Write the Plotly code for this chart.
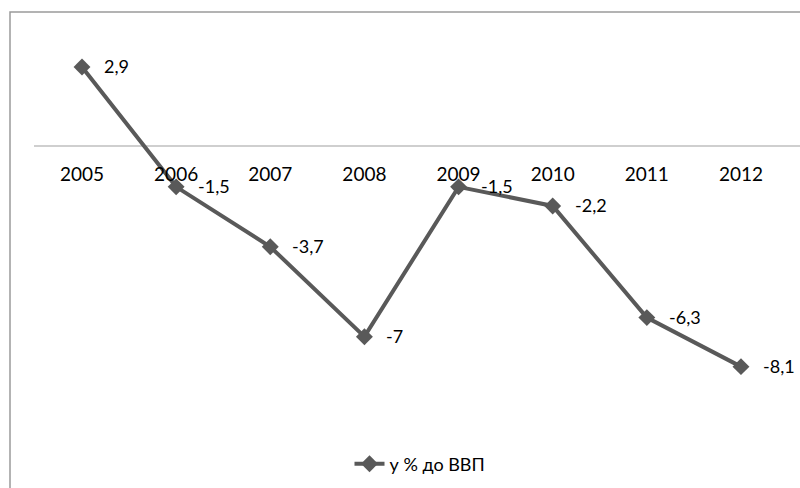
import plotly.graph_objects as go

years = ["2005", "2006", "2007", "2008", "2009", "2010", "2011", "2012"]
values = [2.9, -1.5, -3.7, -7.0, -1.5, -2.2, -6.3, -8.1]
series_name = "у % до ВВП"

W, H = 800, 488
FONT = "Lato, 'Open Sans', sans-serif"
LINE_COLOR = "#595959"

labels = [f"{v:g}".replace(".", ",") for v in values]

fig = go.Figure()
fig.add_trace(go.Scatter(
    x=list(range(len(years))), y=values, name=series_name,
    mode="lines+markers",
    line=dict(color=LINE_COLOR, width=4),
    marker=dict(symbol="diamond", size=13, color=LINE_COLOR),
))

# value labels to the right of each marker
for i, (v, t) in enumerate(zip(values, labels)):
    fig.add_annotation(x=i, y=v, text=t, showarrow=False, xanchor="left",
                       yanchor="middle", xshift=20, yshift=1,
                       font=dict(family=FONT, size=18, color="#000000"))

px_per_cat = 94.14
x_left_px = 34
x_start = (x_left_px - 82) / px_per_cat
x_end = x_start + (W - x_left_px) / px_per_cat

px_per_unit = 27.24
y_top = 146 / px_per_unit
y_bot = y_top - H / px_per_unit
zero_paper = 1 - 146 / H

fig.update_layout(
    width=W, height=H,
    margin=dict(l=0, r=0, t=0, b=0),
    paper_bgcolor="white", plot_bgcolor="white",
    showlegend=True,
    legend=dict(orientation="h", x=0.5 + 20 / W, xanchor="center", y=1 - 464 / H,
                yanchor="middle", font=dict(family=FONT, size=18, color="#000000"),
                bgcolor="rgba(0,0,0,0)"),
    xaxis=dict(domain=[x_left_px / W, 1], range=[x_start, x_end],
               tickmode="array", tickvals=list(range(len(years))), ticktext=years,
               showgrid=False, zeroline=False, showline=False, ticks="",
               anchor="free", position=zero_paper, side="bottom",
               ticklabelstandoff=15,
               tickfont=dict(family=FONT, size=19, color="#000000")),
    yaxis=dict(range=[y_bot, y_top], visible=False, showgrid=False, zeroline=False),
    shapes=[
        # category axis at zero
        dict(type="line", xref="paper", yref="y", x0=x_left_px / W, x1=1, y0=0, y1=0,
             line=dict(color="#BFBFBF", width=1.5), layer="below"),
        # chart frame
        dict(type="rect", xref="paper", yref="paper", x0=10 / W, x1=1.05,
             y0=-0.05, y1=1 - 12 / H, line=dict(color="#9A9A9A", width=1.5),
             layer="below"),
    ],
)

fig.write_html("out.html")
